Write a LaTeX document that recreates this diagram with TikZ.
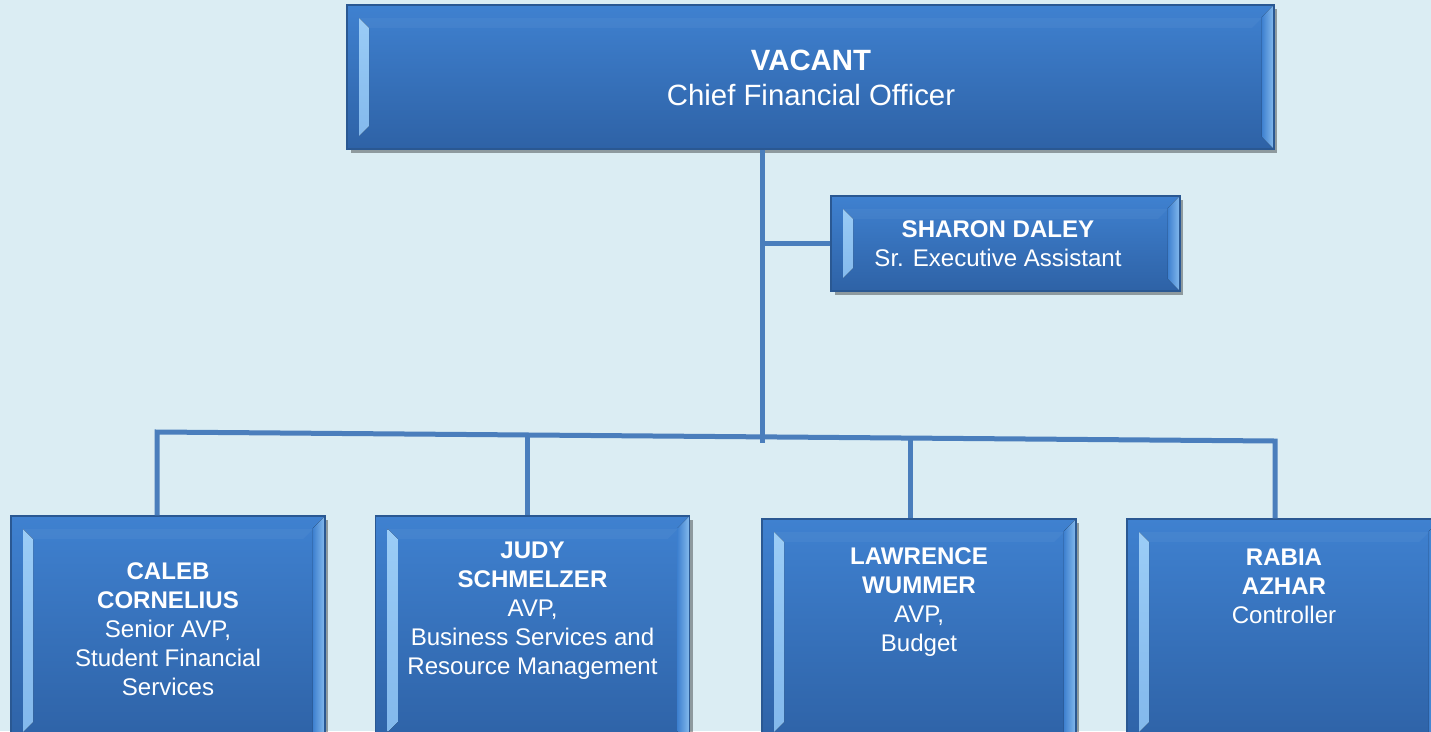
\documentclass[tikz,border=0pt]{standalone}
\usepackage{fontspec}
\setmainfont{Liberation Sans}
\usetikzlibrary{calc,shadows}

\definecolor{pagebg}{HTML}{DBEDF3}
\definecolor{boxtop}{HTML}{3F81D0}
\definecolor{boxbot}{HTML}{2E62A6}
\definecolor{boxline}{HTML}{2A5892}
\definecolor{bevellight}{HTML}{9DCEF7}
\definecolor{connblue}{HTML}{4A7EBC}

\tikzset{
  unitbox/.style={draw=boxline, line width=0.8pt, top color=boxtop, bottom color=boxbot,
    inner sep=0pt, text=white, align=center,
    drop shadow={shadow xshift=0.07cm, shadow yshift=-0.08cm, fill=black, opacity=0.35},
    path picture={
      % left bevel
      \fill[top color=bevellight, bottom color=bevellight!70!boxtop]
        ($(path picture bounding box.north west)+(0.24cm,-0.26cm)$) --
        ($(path picture bounding box.north west)+(0.44cm,-0.46cm)$) --
        ($(path picture bounding box.south west)+(0.44cm,0.46cm)$) --
        ($(path picture bounding box.south west)+(0.24cm,0.26cm)$) -- cycle;
      % top bevel, faint
      \fill[white, opacity=0.04]
        ($(path picture bounding box.north west)+(0.24cm,-0.26cm)$) --
        ($(path picture bounding box.north east)+(-0.24cm,-0.26cm)$) --
        ($(path picture bounding box.north east)+(-0.44cm,-0.46cm)$) --
        ($(path picture bounding box.north west)+(0.44cm,-0.46cm)$) -- cycle;
      % right bevel
      \fill[left color=boxtop, right color=bevellight!75!boxtop]
        (path picture bounding box.north east) --
        ($(path picture bounding box.north east)+(-0.24cm,-0.24cm)$) --
        ($(path picture bounding box.south east)+(-0.24cm,0.24cm)$) --
        (path picture bounding box.south east) -- cycle;
    }},
  unittext/.style={text=white, align=center, font=\fontsize{13.7}{16.5}\selectfont},
  conn/.style={draw=connblue, line width=0.1cm},
}

\begin{document}
\begin{tikzpicture}[x=0.02cm, y=-0.02cm]
  \def\lowerw{6.28cm}
  \def\lowerh{4.58cm}

  \fill[pagebg] (0,0) rectangle (1431,731);
  \useasboundingbox (0,0) rectangle (1431,731);
  \clip (0,0) rectangle (1431,731);

  \coordinate (trunk) at (762,443);
  \coordinate (busL) at (157,432);
  \coordinate (busR) at (1275,441);
  \coordinate (judyBus) at ($(busL)!{(527-157)/1118}!(busR)$);
  \coordinate (lawBus) at ($(busL)!{(910-157)/1118}!(busR)$);

  % boxes
  \node[unitbox, minimum width=18.54cm, minimum height=2.88cm] (cfo) at (810.5,77) {};
  \node[unitbox, minimum width=6.98cm, minimum height=1.9cm] (sharon) at (1005.5,243.5) {};
  \node[unitbox, minimum width=\lowerw, minimum height=\lowerh] (caleb) at (168,630.5) {};
  \node[unitbox, minimum width=\lowerw, minimum height=\lowerh] (judy) at (532.5,630.5) {};
  \node[unitbox, minimum width=\lowerw, minimum height=4.52cm] (lawrence) at (919,632) {};
  \node[unitbox, minimum width=\lowerw, minimum height=4.52cm] (rabia) at (1284,632) {};

  % texts
  \node[unittext, font=\fontsize{16.7}{20}\selectfont] (cfo-txt) at (811,78)
    {\textbf{VACANT}\\Chief Financial Officer};
  \node[unittext] (sharon-txt) at (998,244)
    {\textbf{SHARON DALEY}\\Sr. Executive Assistant};
  \node[unittext] (caleb-txt) at (168,629)
    {\textbf{CALEB}\\\textbf{CORNELIUS}\\Senior AVP,\\Student Financial\\Services};
  \node[unittext] (judy-txt) at (532.5,611)
    {\textbf{JUDY}\\\textbf{SCHMELZER}\\AVP,\\Business Services and\\Resource Management};
  \node[unittext] (lawrence-txt) at (919,602)
    {\textbf{LAWRENCE}\\\textbf{WUMMER}\\AVP,\\Budget};
  \node[unittext] (rabia-txt) at (1284,586)
    {\textbf{RABIA}\\\textbf{AZHAR}\\Controller};

  % connectors
  \draw[conn] (cfo.south -| trunk) -- (trunk);
  \draw[conn] (trunk |- sharon.west) -- (sharon.west);
  \draw[conn] (caleb.north -| busL) -- (busL) -- (busR) -- (rabia.north -| busR);
  \draw[conn] (judyBus) -- (judy.north -| judyBus);
  \draw[conn] (lawBus) -- (lawrence.north -| lawBus);
\end{tikzpicture}
\end{document}
